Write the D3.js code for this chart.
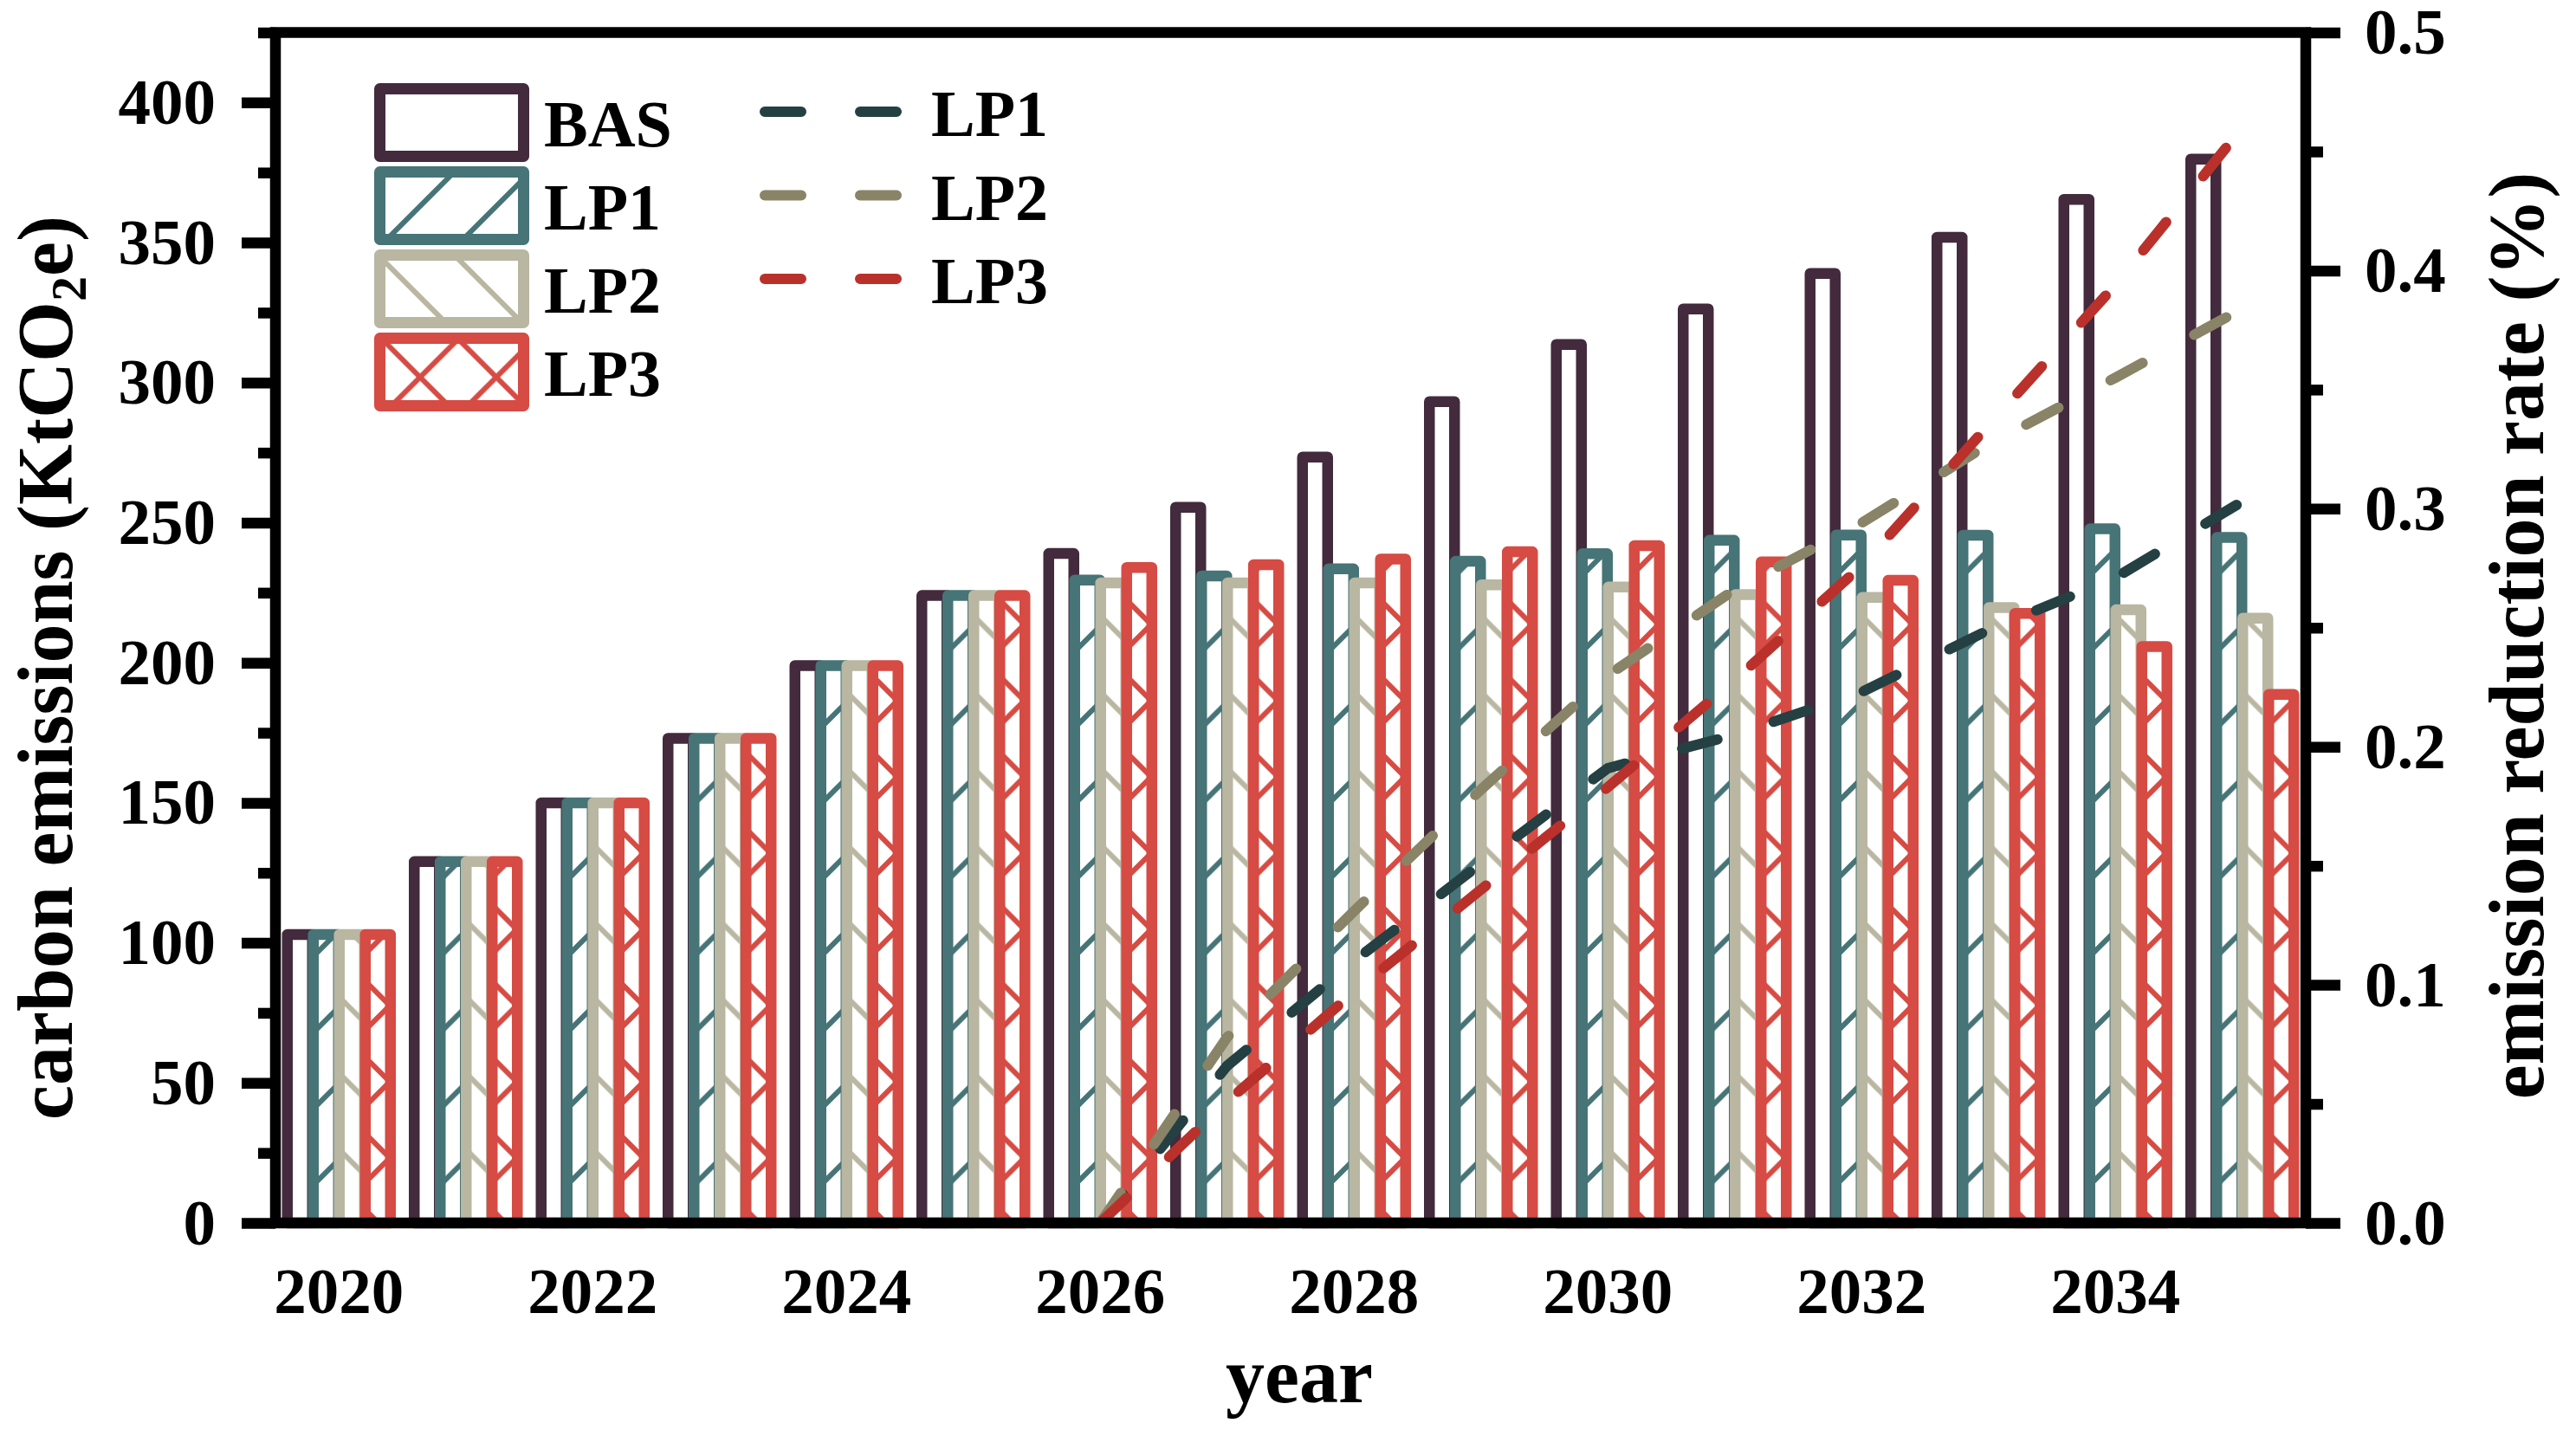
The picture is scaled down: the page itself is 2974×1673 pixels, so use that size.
<!DOCTYPE html>
<html>
<head>
<meta charset="utf-8">
<script src="https://cdn.jsdelivr.net/npm/d3@7"></script>
<style>
  body { margin: 0; background: #fff; }
  text { font-family: "Liberation Serif", "Times New Roman", serif; font-weight: bold; }
</style>
</head>
<body>
<script>

// data
var years = [2020, 2021, 2022, 2023, 2024, 2025, 2026, 2027, 2028, 2029, 2030, 2031, 2032, 2033, 2034, 2035]
var basValues = [103, 129, 150, 173, 199, 224, 239, 255.5, 273.4, 293.2, 313.6, 326.3, 339, 351.9, 365.4, 379.8]
var lp1Values = [103, 129, 150, 173, 199, 224, 229.5, 231, 233.5, 236.2, 238.9, 243.7, 245.6, 245.5, 247.8, 244.7]
var lp2Values = [103, 129, 150, 173, 199, 224, 228.5, 228.5, 228.5, 227.8, 227.0, 224.3, 223.3, 219.7, 218.9, 215.9]
var lp3Values = [103, 129, 150, 173, 199, 224, 234, 235, 237, 239.6, 241.8, 236.0, 229.4, 217.6, 205.8, 188.7]

var rateYears = [2026, 2027, 2028, 2029, 2030, 2031, 2032, 2033, 2034, 2035]
var lp1Rate = [0, 0.066, 0.110, 0.151, 0.191, 0.205, 0.223, 0.249, 0.271, 0.303]
var lp2Rate = [0, 0.078, 0.131, 0.182, 0.230, 0.266, 0.294, 0.327, 0.355, 0.384]
var lp3Rate = [0, 0.051, 0.097, 0.140, 0.183, 0.228, 0.276, 0.335, 0.394, 0.460]

var seriesNames = ["BAS", "LP1", "LP2", "LP3"]
var xTickYears = [2020, 2022, 2024, 2026, 2028, 2030, 2032, 2034]
var leftTicks = [0, 50, 100, 150, 200, 250, 300, 350, 400]
var leftMinor = [25, 75, 125, 175, 225, 275, 325, 375, 425]
var rightTicks = [0, 0.1, 0.2, 0.3, 0.4, 0.5]
var rightMinor = [0.05, 0.15, 0.25, 0.35, 0.45]

var barColor = {BAS: "#432a3d", LP1: "#467477", LP2: "#b9b6a1", LP3: "#d64b43"}
var lineColor = {LP1: "#254043", LP2: "#898467", LP3: "#ba312b"}

// plot area
var W = 2974, H = 1673
var pLeft = 318, pRight = 2662, pTop = 37.5, pBottom = 1412

var svg = d3.select("body")
  .append("svg")
    .attr("width", W)
    .attr("height", H)

// hatch patterns (bars and legend get their own phase, like the original)
var defs = svg.append("defs")
function hatch(id, color, kind, tx, ty) {
  var p = defs.append("pattern")
    .attr("id", id)
    .attr("patternUnits", "userSpaceOnUse")
    .attr("width", 88).attr("height", 88)
    .attr("patternTransform", "translate(" + tx + "," + ty + ")")
  var d = ""
  if (kind == "fwd" || kind == "cross") d += "M-10,10 L10,-10 M0,88 L88,0 M78,98 L98,78 "
  if (kind == "back" || kind == "cross") d += "M0,0 L88,88 M-10,78 L10,98 M78,-10 L98,10"
  p.append("rect").attr("width", 88).attr("height", 88).attr("fill", "#fff")
  p.append("path").attr("d", d).attr("stroke", color).attr("stroke-width", 6).attr("fill", "none")
}
hatch("hLP1", barColor.LP1, "fwd", 0, 4)
hatch("hLP2", barColor.LP2, "back", 0, 21.5)
hatch("hLP3", barColor.LP3, "cross", 0, 61)
hatch("gLP1", barColor.LP1, "fwd", 0, 19)
hatch("gLP2", barColor.LP2, "back", 0, 34)
hatch("gLP3", barColor.LP3, "cross", 1, 39.5)
var fillFor = {BAS: "#fff", LP1: "url(#hLP1)", LP2: "url(#hLP2)", LP3: "url(#hLP3)"}
var legendFill = {BAS: "#fff", LP1: "url(#gLP1)", LP2: "url(#gLP2)", LP3: "url(#gLP3)"}

// scales
var x = d3.scaleBand().domain(years).range([pLeft, pRight])
var xs = d3.scaleBand().domain(seriesNames).range([13.75, 133.75])
var yL = d3.scaleLinear().domain([0, 425]).range([pBottom, pTop])
var yR = d3.scaleLinear().domain([0, 0.5]).range([pBottom, pTop])

var rows = years.map(function(yr, i) {
  return {year: yr, values: {BAS: basValues[i], LP1: lp1Values[i], LP2: lp2Values[i], LP3: lp3Values[i]}}
})

// bars
var groups = svg.selectAll(".grp")
  .data(rows)
  .enter()
  .append("g")
    .attr("class", "grp")
    .attr("transform", function(d) { return "translate(" + x(d.year) + ",0)" })

groups.selectAll("rect")
  .data(function(d) { return seriesNames.map(function(k) { return {key: k, value: d.values[k]} }) })
  .enter()
  .append("rect")
    .attr("x", function(d) { return xs(d.key) })
    .attr("width", xs.bandwidth() - 1)
    .attr("y", function(d) { return yL(d.value) })
    .attr("height", function(d) { return yL(0) - yL(d.value) })
    .attr("fill", function(d) { return fillFor[d.key] })
    .attr("stroke", function(d) { return barColor[d.key] })
    .attr("stroke-width", 12.5)
    .attr("stroke-linejoin", "round")

// reduction rate lines
var line = d3.line()
  .x(function(d) { return x(d[0]) + x.bandwidth() / 2 })
  .y(function(d) { return yR(d[1]) })

var rates = {LP1: lp1Rate, LP2: lp2Rate, LP3: lp3Rate}
;["LP1", "LP2", "LP3"].forEach(function(k) {
  svg.append("path")
    .datum(rateYears.map(function(yr, i) { return [yr, rates[k][i]] }))
    .attr("d", line)
    .attr("fill", "none")
    .attr("stroke", lineColor[k])
    .attr("stroke-width", 12)
    .attr("stroke-linecap", "round")
    .attr("stroke-dasharray", "42 68")
})

// axes
function styleAxis(g) {
  g.select(".domain").remove()
  g.selectAll(".tick line").attr("stroke", "#000").attr("stroke-width", 12.5)
  g.selectAll("text").attr("fill", "#000").style("font-size", "75px")
    .style("font-family", "'Liberation Serif', 'Times New Roman', serif").style("font-weight", "bold")
}

svg.append("g")
  .attr("transform", "translate(" + pLeft + ",0)")
  .call(d3.axisLeft(yL).tickValues(leftMinor).tickSize(20).tickFormat(""))
  .call(styleAxis)
svg.append("g")
  .attr("transform", "translate(" + pLeft + ",0)")
  .call(d3.axisLeft(yL).tickValues(leftTicks).tickSize(39).tickPadding(30))
  .call(styleAxis)

svg.append("g")
  .attr("transform", "translate(" + pRight + ",0)")
  .call(d3.axisRight(yR).tickValues(rightMinor).tickSize(20).tickFormat(""))
  .call(styleAxis)
svg.append("g")
  .attr("transform", "translate(" + pRight + ",0)")
  .call(d3.axisRight(yR).tickValues(rightTicks).tickSize(40).tickPadding(28).tickFormat(d3.format(".1f")))
  .call(styleAxis)

svg.append("g")
  .attr("transform", "translate(0," + pBottom + ")")
  .call(d3.axisBottom(x).tickValues(xTickYears).tickSize(0).tickPadding(51))
  .call(styleAxis)

// frame
svg.append("rect")
  .attr("x", pLeft).attr("y", pTop)
  .attr("width", pRight - pLeft).attr("height", pBottom - pTop)
  .attr("fill", "none")
  .attr("stroke", "#000")
  .attr("stroke-width", 12.5)

// axis titles
svg.append("text")
  .attr("x", 1500).attr("y", 1619)
  .attr("text-anchor", "middle")
  .style("font-size", "90px")
  .text("year")

var lt = svg.append("text")
  .attr("transform", "translate(83,771)rotate(-90)")
  .attr("text-anchor", "middle")
  .style("font-size", "90px")
lt.append("tspan").text("carbon emissions (KtCO")
lt.append("tspan").attr("dy", 16).style("font-size", "58px").text("2")
lt.append("tspan").attr("dy", -16).text("e)")

svg.append("text")
  .attr("transform", "translate(2936,734)rotate(-90)")
  .attr("text-anchor", "middle")
  .style("font-size", "90px")
  .text("emission reduction rate (%)")

// legend: bars
seriesNames.forEach(function(k, i) {
  var yy = 102.5 + i * 96
  svg.append("rect")
    .attr("x", 438.5).attr("y", yy)
    .attr("width", 166).attr("height", 78)
    .attr("fill", legendFill[k])
    .attr("stroke", barColor[k])
    .attr("stroke-width", 13)
    .attr("stroke-linejoin", "round")
  svg.append("text")
    .attr("x", 628).attr("y", yy + 39 + 27)
    .style("font-size", "76px")
    .text(k)
})

// legend: lines
;["LP1", "LP2", "LP3"].forEach(function(k, i) {
  var yy = 129 + i * 96.5
  svg.append("line")
    .attr("x1", 883).attr("x2", 1037)
    .attr("y1", yy).attr("y2", yy)
    .attr("stroke", lineColor[k])
    .attr("stroke-width", 12)
    .attr("stroke-linecap", "round")
    .attr("stroke-dasharray", "42 68")
  svg.append("text")
    .attr("x", 1075).attr("y", yy + 28)
    .style("font-size", "76px")
    .text(k)
})

</script>
</body>
</html>
